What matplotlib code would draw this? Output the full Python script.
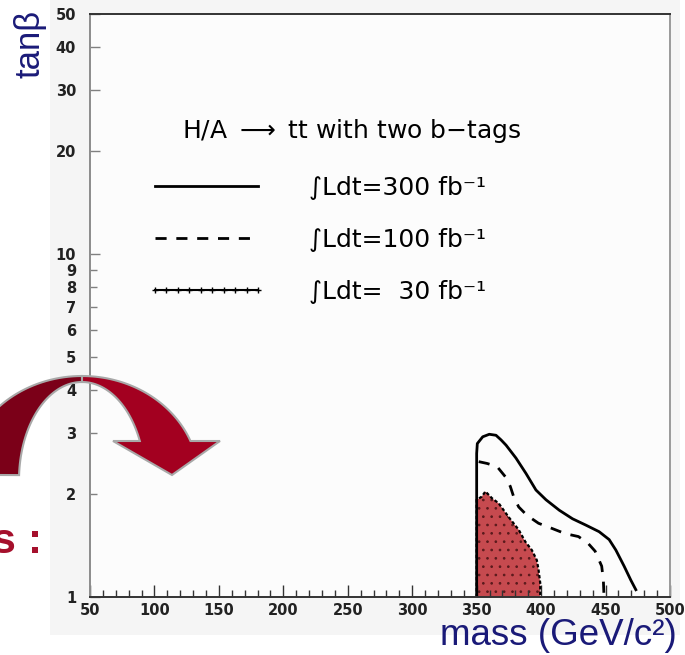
import numpy as np
import matplotlib
matplotlib.use('Agg')
import matplotlib.pyplot as plt
import matplotlib.ticker as mtick
from matplotlib.lines import Line2D
from matplotlib.patches import Rectangle, Polygon

plt.rcParams['font.family'] = ['DejaVu Sans']
plt.rcParams['hatch.linewidth'] = 0.7

# discovery contours, H/A -> tt
mass_300 = [350, 350, 350.5, 354.7, 359.8, 365.0, 368.9, 372.8, 380.5, 388.3, 396.0, 403.8,
            414.1, 424.4, 434.7, 445.0, 452.8, 458.0, 464.4, 469.6, 473.5]
tanb_300 = [1.0, 2.62, 2.80, 2.93, 2.98, 2.96, 2.87, 2.77, 2.54, 2.29, 2.05, 1.92,
            1.79, 1.69, 1.62, 1.55, 1.47, 1.37, 1.23, 1.12, 1.05]

mass_100 = [351.6, 358.1, 365.8, 372.3, 376.1, 378.7, 382.6, 389.0, 398.0, 408.3, 418.7,
            429.0, 436.7, 441.9, 447.0, 448.3, 448.8]
tanb_100 = [2.48, 2.45, 2.40, 2.24, 2.10, 1.96, 1.83, 1.73, 1.64, 1.585, 1.53,
            1.50, 1.43, 1.36, 1.23, 1.12, 1.0]

mass_30 = [350, 350, 353.9, 356.8, 361.9, 367.1, 374.8, 382.6, 387.7, 392.8, 396.7, 398.0, 399.3, 399.3]
tanb_30 = [1.0, 1.92, 1.96, 2.03, 1.94, 1.875, 1.71, 1.57, 1.45, 1.37, 1.28, 1.20, 1.10, 1.0]

labels = ['∫Ldt=300 fb⁻¹', '∫Ldt=100 fb⁻¹', '∫Ldt=  30 fb⁻¹']
title = 'H/A $\\longrightarrow$ tt with two b\u2212tags'

y_major = [1, 10, 20, 30, 40, 50]
y_minor = [2, 3, 4, 5, 6, 7, 8, 9]

W, H = 685, 655
fig = plt.figure(figsize=(6.85, 6.55), dpi=100)
fig.patch.set_facecolor('white')
fig.patches.append(Rectangle((50 / W, 20 / H), 630 / W, 635 / H, transform=fig.transFigure,
                             facecolor='#f5f5f5', edgecolor='none', zorder=-5))

ax = fig.add_axes([90 / W, 1 - 597 / H, 580 / W, 583 / H], zorder=1)
ax.set_facecolor('#fcfcfc')
ax.set_yscale('log')
ax.set_xlim(50, 500)
ax.set_ylim(1, 50)

ax.fill(mass_30, tanb_30, facecolor='#c64a4f', edgecolor='#5a1a1c', hatch='..', linewidth=0)
ax.plot(mass_30, tanb_30, color='black', lw=1.6, linestyle=(0, (1.5, 1)))
ax.plot(mass_300, tanb_300, color='black', lw=2.0)
ax.plot(mass_100, tanb_100, color='black', lw=2.0, linestyle=(0, (4, 3.5)))

# axes, ROOT style
ax.yaxis.set_major_locator(mtick.FixedLocator(y_major))
ax.yaxis.set_minor_locator(mtick.FixedLocator(y_minor))
ax.yaxis.set_major_formatter(mtick.FixedFormatter([str(v) for v in y_major]))
ax.yaxis.set_minor_formatter(mtick.FixedFormatter([str(v) for v in y_minor]))
ax.xaxis.set_major_locator(mtick.MultipleLocator(50))
ax.xaxis.set_minor_locator(mtick.MultipleLocator(10))
ax.tick_params(axis='y', which='both', direction='in', colors='#808080', labelcolor='#222222',
               labelsize=10.5, pad=10)
ax.tick_params(axis='y', which='major', length=7, width=1)
ax.tick_params(axis='y', which='minor', length=5, width=1)
ax.tick_params(axis='x', which='both', direction='in', colors='#333333', labelcolor='#222222',
               labelsize=10.5, pad=4)
ax.tick_params(axis='x', which='major', length=8.5, width=1)
ax.tick_params(axis='x', which='minor', length=5, width=1)
for lab in ax.get_xticklabels() + ax.get_yticklabels(which='both'):
    lab.set_fontweight('bold')
ax.spines['left'].set_color('#8c8c8c')
ax.spines['right'].set_color('#9a9a9a')
ax.spines['top'].set_color('#333333')
ax.spines['bottom'].set_color('#333333')
for s in ax.spines.values():
    s.set_linewidth(1.4)

handles = [Line2D([], [], color='black', lw=2.0),
           Line2D([], [], color='black', lw=2.0, linestyle=(0, (4, 3.5))),
           Line2D([], [], color='black', lw=1.5, marker='+', markersize=5, markeredgewidth=1)]
ax.legend(handles, labels, loc='upper left', bbox_to_anchor=(147.5 / W, 1 - 176 / H),
          bbox_transform=fig.transFigure, frameon=False, fontsize=18, handlelength=4.72,
          handletextpad=1.75, labelspacing=1.11, borderpad=0, borderaxespad=0, numpoints=10)

# overlay in pixel coordinates: title, labels and the slide arrow
ov = fig.add_axes([0, 0, 1, 1], zorder=5)
ov.set_xlim(0, W)
ov.set_ylim(H, 0)
ov.axis('off')
ov.patch.set_alpha(0)

ov.text(182, 131, title, fontsize=18, va='center', ha='left')
ov.text(30, 10, 'tanβ', rotation=90, ha='center', va='top', fontsize=25,
        family='Liberation Sans', color='#1a1a78')
ov.text(677, 645, 'mass (GeV/c²)', ha='right', va='baseline', fontsize=26.5,
        family='Liberation Sans', color='#1a1a78')
ov.text(42, 553, 's :', ha='right', va='baseline', fontsize=31, fontweight='bold',
        family='Liberation Sans', color='#a5102c')

cx, cy = 82, 480
ao, bo, ai, bi = 117, 104, 63, 98
th_l = np.linspace(np.pi / 2, np.pi - 0.05, 40)
left = np.vstack([np.c_[cx + ao * np.cos(th_l), cy - bo * np.sin(th_l)],
                  np.c_[cx + ai * np.cos(th_l[::-1]), cy - bi * np.sin(th_l[::-1])]])
ov.add_patch(Polygon(left, closed=True, facecolor='#7b0018', edgecolor='#a8a8a8', lw=1.5))
t_o = np.arcsin((cy - 441) / bo)
t_i = np.arcsin((cy - 441) / bi)
th_o = np.linspace(np.pi / 2, t_o, 40)
th_i = np.linspace(t_i, np.pi / 2, 40)
right = np.vstack([np.c_[cx + ao * np.cos(th_o), cy - bo * np.sin(th_o)],
                   [[220, 441], [172, 475], [113, 441]],
                   np.c_[cx + ai * np.cos(th_i), cy - bi * np.sin(th_i)]])
ov.add_patch(Polygon(right, closed=True, facecolor='#a30020', edgecolor='#a8a8a8', lw=1.5))

fig.savefig('out.png', dpi=100)
